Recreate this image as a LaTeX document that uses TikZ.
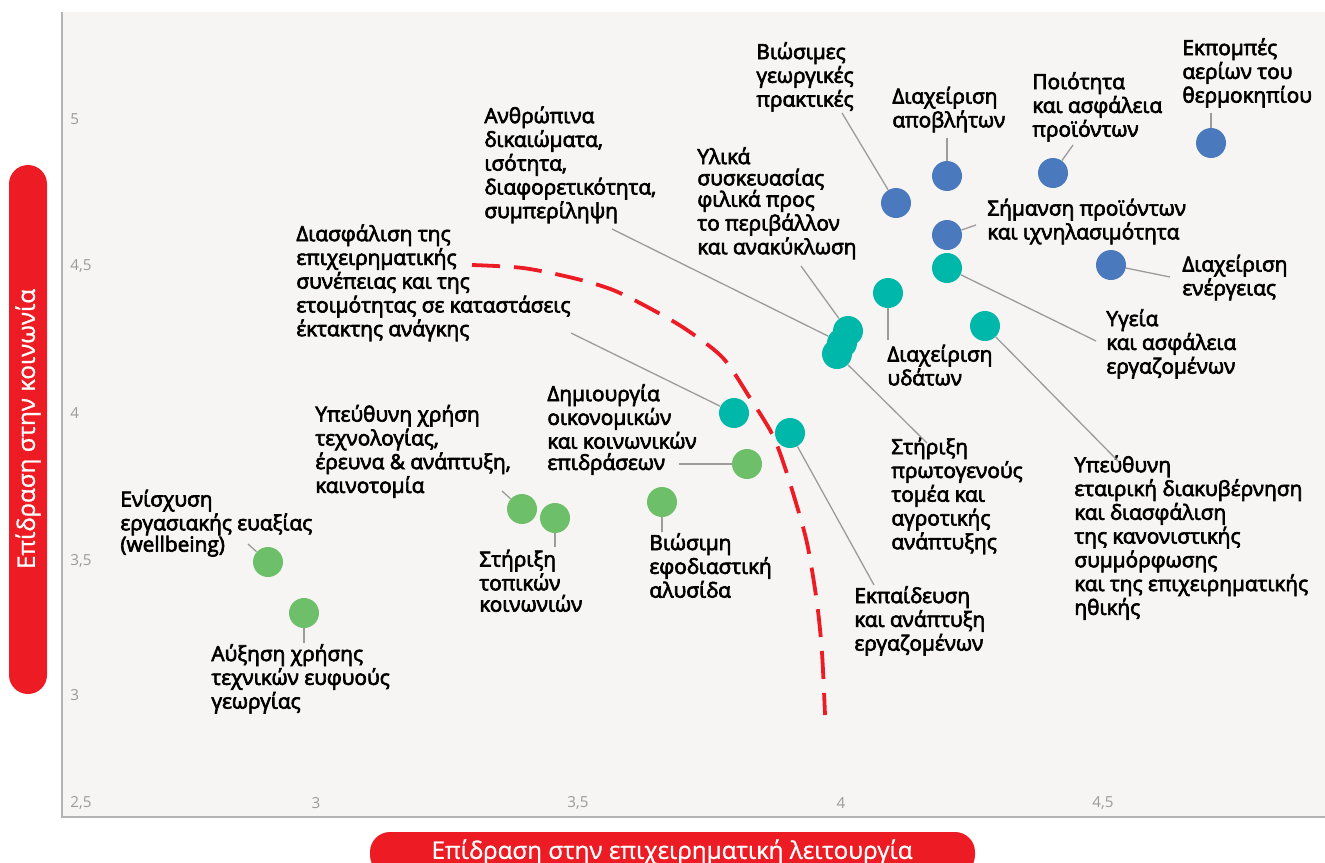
\documentclass[tikz,border=0pt]{standalone}
\usepackage{fontspec}
\setmainfont{Open Sans}
\newfontfamily\labfont[FakeBold=3.2]{Open Sans}
\newfontfamily\titfont[FakeBold=1]{Open Sans}
\definecolor{plotbg}{HTML}{F6F5F3}
\definecolor{axisgray}{HTML}{B4B4B4}
\definecolor{tickgray}{HTML}{9A9A9A}
\definecolor{leadgray}{HTML}{9B9B9B}
\definecolor{barred}{HTML}{ED1C24}
\definecolor{dotblue}{HTML}{4B79BD}
\definecolor{dotteal}{HTML}{00B8AA}
\definecolor{dotgreen}{HTML}{6DBF69}

\begin{document}
\begin{tikzpicture}[x=0.5pt,y=-0.5pt,
  dot/.style={circle,inner sep=0pt,minimum size=15pt},
  bdot/.style={dot,fill=dotblue},
  tdot/.style={dot,fill=dotteal},
  gdot/.style={dot,fill=dotgreen},
  lead/.style={leadgray,line width=0.65pt},
  % labels are placed by the baseline of their last line
  lab/.style={anchor=base west,inner sep=0pt,align=left,
    font=\labfont\fontsize{10.4}{10.65}\selectfont},
  tick/.style={inner sep=0pt,text=tickgray,font=\fontsize{7.6}{8}\selectfont},
  axtitle/.style={inner sep=0pt,text=white,font=\titfont\fontsize{12.1}{13}\selectfont}]
  \useasboundingbox (0,0) rectangle (1325,862);
  % plot area and axes
  \fill[plotbg] (62,12) rectangle (1325,817);
  \draw[axisgray,line width=1pt] (62,12) -- (62,817) -- (1325,817);
  % tick labels
  \node[tick,anchor=west] (t50) at (70,119) {5};
  \node[tick,anchor=west] (t45) at (70,266) {4,5};
  \node[tick,anchor=west] (t40) at (70,413) {4};
  \node[tick,anchor=west] (t35) at (70,561) {3,5};
  \node[tick,anchor=west] (t30) at (70,695) {3};
  \node[tick,anchor=west] (x25) at (70,803) {2,5};
  \node[tick] (x30) at (316,803) {3};
  \node[tick] (x35) at (578,803) {3,5};
  \node[tick] (x40) at (841,803) {4};
  \node[tick] (x45) at (1103,803) {4,5};
  % axis titles
  \fill[barred,rounded corners=9.5pt] (9,165) rectangle (47,694);
  \node[axtitle,rotate=90] (ytitle) at (28,429) {Επίδραση στην κοινωνία};
  \begin{scope}
    \clip (0,0) rectangle (1325,862);
    \fill[barred,rounded corners=10pt] (370,832) rectangle (975,875);
  \end{scope}
  \node[axtitle] (xtitle) at (672,852) {Επίδραση στην επιχειρηματική λειτουργία};
  % threshold curve
  \draw[barred,line width=1.9pt,dash pattern=on 14pt off 7pt]
    plot[smooth] coordinates {(472,265) (523,268) (573,278) (613,290)
      (653,310) (687,330) (723,358) (750,398) (770,430) (780,453)
      (793,493) (807,543) (817,603) (822,653) (825,715)};

  % environment (blue)
  \node[bdot] (dPrac) at (896,203) {};
  \node[bdot] (dWaste) at (947,176) {};
  \node[bdot] (dQual) at (1053,173) {};
  \node[bdot] (dGhg) at (1211,143) {};
  \node[bdot] (dTrace) at (947,235) {};
  \node[bdot] (dEnergy) at (1111,265) {};
  % people (teal)
  \node[tdot] (dSafety) at (947,268) {};
  \node[tdot] (dGov) at (985,326) {};
  \node[tdot] (dWater) at (888,293) {};
  \node[tdot] (dPack) at (848,331) {};
  \node[tdot] (dRights) at (842,343) {};
  \node[tdot] (dPrim) at (837,354) {};
  \node[tdot] (dCont) at (734,413) {};
  \node[tdot] (dEdu) at (790,433) {};
  % economy (green)
  \node[gdot] (dEcon) at (747,464) {};
  \node[gdot] (dSupply) at (662,502) {};
  \node[gdot] (dLocal) at (555,518) {};
  \node[gdot] (dTech) at (522,509) {};
  \node[gdot] (dWell) at (268,562) {};
  \node[gdot] (dSmart) at (304,613) {};

  % labels
  \node[lab] (lPrac) at (756,106.6) {Βιώσιμες\\γεωργικές\\πρακτικές};
  \node[lab] (lWaste) at (892,127.3) {Διαχείριση\\αποβλήτων};
  \node[lab] (lQual) at (1032,136.6) {Ποιότητα\\και ασφάλεια\\προϊόντων};
  \node[lab] (lGhg) at (1182,102.6) {Εκπομπές\\αερίων του\\θερμοκηπίου};
  \node[lab] (lTrace) at (987,239.3) {Σήμανση προϊόντων\\και ιχνηλασιμότητα};
  \node[lab] (lEnergy) at (1182,295.3) {Διαχείριση\\ενέργειας};
  \node[lab] (lSafety) at (1106,373.6) {Υγεία\\και ασφάλεια\\εργαζομένων};
  \node[lab] (lGov) at (1074,614.8) {Υπεύθυνη\\εταιρική διακυβέρνηση\\και διασφάλιση\\της κανονιστικής\\συμμόρφωσης\\και της επιχειρηματικής\\ηθικής};
  \node[lab] (lWater) at (887,385.3) {Διαχείριση\\υδάτων};
  \node[lab] (lPack) at (697,254.2) {Υλικά\\συσκευασίας\\φιλικά προς\\το περιβάλλον\\και ανακύκλωση};
  \node[lab] (lRights) at (484,218.2) {Ανθρώπινα\\δικαιώματα,\\ισότητα,\\διαφορετικότητα,\\συμπερίληψη};
  \node[lab] (lPrim) at (891,549.2) {Στήριξη\\πρωτογενούς\\τομέα και\\αγροτικής\\ανάπτυξης};
  \node[lab] (lCont) at (296,336.2) {Διασφάλιση της\\επιχειρηματικής\\συνέπειας και της\\ετοιμότητας σε καταστάσεις\\έκτακτης ανάγκης};
  \node[lab] (lEdu) at (854,650.6) {Εκπαίδευση\\και ανάπτυξη\\εργαζομένων};
  \node[lab] (lEcon) at (547,469.9) {Δημιουργία\\οικονομικών\\και κοινωνικών\\επιδράσεων};
  \node[lab] (lSupply) at (649,597.6) {Βιώσιμη\\εφοδιαστική\\αλυσίδα};
  \node[lab] (lLocal) at (479,611.6) {Στήριξη\\τοπικών\\κοινωνιών};
  \node[lab] (lTech) at (315,492.9) {Υπεύθυνη χρήση\\τεχνολογίας,\\έρευνα \& ανάπτυξη,\\καινοτομία};
  \node[lab] (lWell) at (120,551.6) {Ενίσχυση\\εργασιακής ευαξίας\\(wellbeing)};
  \node[lab] (lSmart) at (211,708.6) {Αύξηση χρήσης\\τεχνικών ευφυούς\\γεωργίας};

  % leader ends
  \coordinate (cPrac) at (842,113);
  \coordinate (cWaste) at (947,138);
  \coordinate (cQual) at (1073,145);
  \coordinate (cGhg) at (1211,113);
  \coordinate (cTrace) at (976,225);
  \coordinate (cEnergy) at (1170,277);
  \coordinate (cSafety) at (1096,341);
  \coordinate (cGov) at (1118,461);
  \coordinate (cWater) at (888,340);
  \coordinate (cPack) at (801,266);
  \coordinate (cRights) at (612,229);
  \coordinate (cPrim) at (927,443);
  \coordinate (cCont) at (571,333);
  \coordinate (cEdu) at (874,585);
  \coordinate (cEcon) at (679,464);
  \coordinate (cSupply) at (662,532);
  \coordinate (cLocal) at (555,547);
  \coordinate (cTech) at (502,491);
  \coordinate (cWell) at (248,544);
  \coordinate (cSmart) at (304,643);

  % leaders
  \foreach \n in {Prac,Waste,Qual,Ghg,Trace,Energy,Safety,Gov,Water,Pack,
      Rights,Prim,Cont,Edu,Econ,Supply,Local,Tech,Well,Smart}
    \draw[lead] (d\n) -- (c\n);
\end{tikzpicture}
\end{document}
